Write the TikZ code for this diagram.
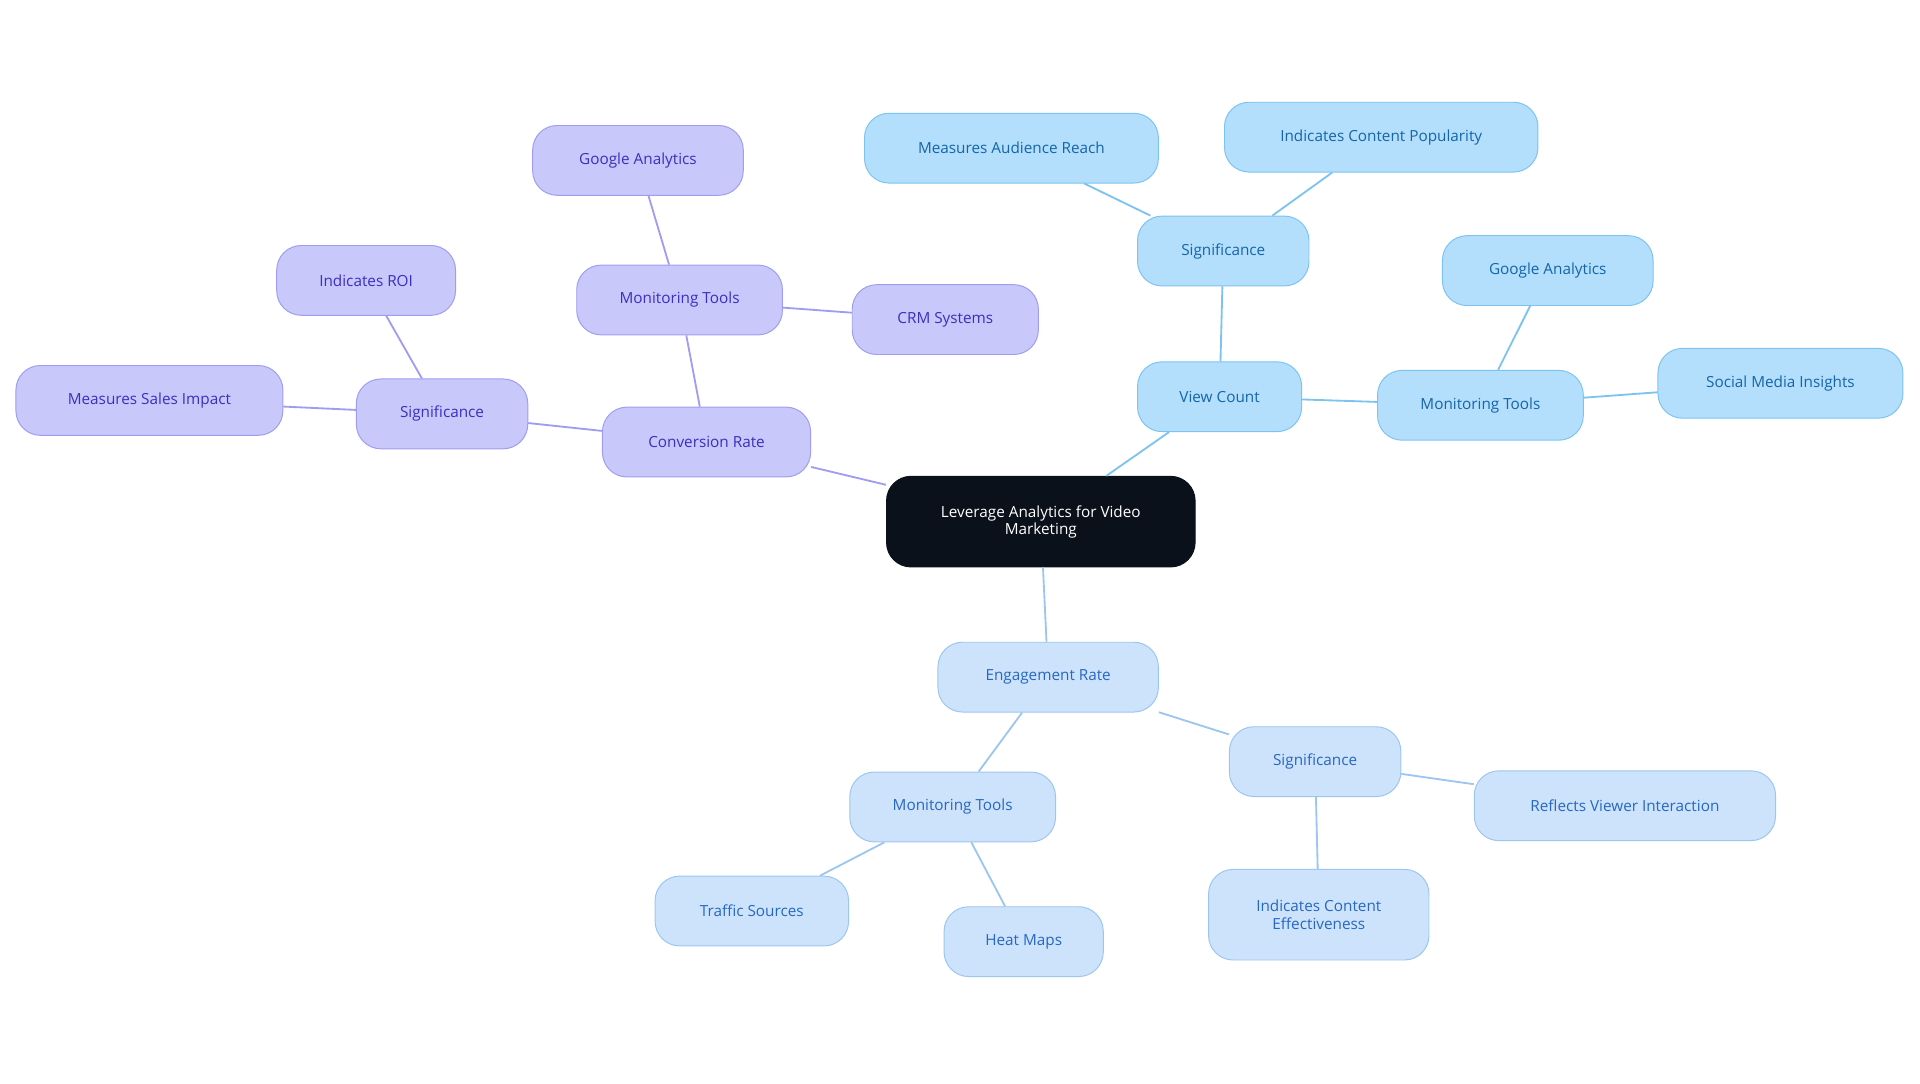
\documentclass[tikz,border=0pt]{standalone}
\usepackage{fontspec}
\setmainfont{Open Sans}
\definecolor{pf}{HTML}{C9C8FB}\definecolor{pd}{HTML}{A09CF0}\definecolor{pt}{HTML}{3A2FC0}
\definecolor{bf}{HTML}{B3DFFD}\definecolor{bd}{HTML}{7DC3F0}\definecolor{bt}{HTML}{1565A8}
\definecolor{lf}{HTML}{CDE3FB}\definecolor{ld}{HTML}{9CC6F0}\definecolor{lt}{HTML}{2767C3}
\definecolor{cf}{HTML}{0B111A}
\begin{document}
\begin{tikzpicture}[x=1pt,y=-1pt,
 base/.style={rounded corners=20pt,minimum height=57pt,font=\fontsize{12.5}{14}\selectfont,align=center,inner sep=2pt,line width=0.8pt},
 pn/.style={base,fill=pf,draw=pd,text=pt},
 bn/.style={base,fill=bf,draw=bd,text=bt},
 ln/.style={base,fill=lf,draw=ld,text=lt},
 pe/.style={draw=pd,line width=1.5pt},
 be/.style={draw=bd,line width=1.5pt},
 le/.style={draw=ld,line width=1.5pt}]
\useasboundingbox (0,0) rectangle (1568,885);
\node[base,fill=cf,draw=cf,text=white,minimum width=252pt,minimum height=74pt] (c) at (850,426) {Leverage Analytics for Video\\Marketing};
\node[pn,minimum width=170pt] (cr) at (577,361) {Conversion Rate};
\node[pn,minimum width=168pt] (pm) at (555,245) {Monitoring Tools};
\node[pn,minimum width=172pt] (pg) at (521,131) {Google Analytics};
\node[pn,minimum width=152pt] (crm) at (772,261) {CRM Systems};
\node[pn,minimum width=140pt] (ps) at (361,338) {Significance};
\node[pn,minimum width=146pt] (roi) at (299,229) {Indicates ROI};
\node[pn,minimum width=218pt] (msi) at (122,327) {Measures Sales Impact};
\node[bn,minimum width=134pt] (vc) at (996,324) {View Count};
\node[bn,minimum width=140pt] (bs) at (999,205) {Significance};
\node[bn,minimum width=240pt] (mar) at (826,121) {Measures Audience Reach};
\node[bn,minimum width=256pt] (icp) at (1128,112) {Indicates Content Popularity};
\node[bn,minimum width=168pt] (bm) at (1209,331) {Monitoring Tools};
\node[bn,minimum width=172pt] (bg) at (1264,221) {Google Analytics};
\node[bn,minimum width=200pt] (smi) at (1454,313) {Social Media Insights};
\node[ln,minimum width=180pt] (er) at (856,553) {Engagement Rate};
\node[ln,minimum width=168pt] (lm) at (778,659) {Monitoring Tools};
\node[ln,minimum width=158pt] (ts) at (614,744) {Traffic Sources};
\node[ln,minimum width=130pt] (hm) at (836,769) {Heat Maps};
\node[ln,minimum width=140pt] (ls) at (1074,622) {Significance};
\node[ln,minimum width=246pt] (rvi) at (1327,658) {Reflects Viewer Interaction};
\node[ln,minimum width=180pt,minimum height=74pt] (ice) at (1077,747) {Indicates Content\\Effectiveness};
\begin{scope}[on background layer/.style={}]
\end{scope}
\begin{pgfinterruptboundingbox}\end{pgfinterruptboundingbox}
\begin{scope}[blend mode=normal]
\path[pe] (c) -- (cr) (cr) -- (pm) (pm) -- (pg) (pm) -- (crm) (cr) -- (ps) (ps) -- (roi) (ps) -- (msi);
\path[be] (c) -- (vc) (vc) -- (bs) (bs) -- (mar) (bs) -- (icp) (vc) -- (bm) (bm) -- (bg) (bm) -- (smi);
\path[le] (c) -- (er) (er) -- (lm) (lm) -- (ts) (lm) -- (hm) (er) -- (ls) (ls) -- (rvi) (ls) -- (ice);
\end{scope}
\end{tikzpicture}
\end{document}
